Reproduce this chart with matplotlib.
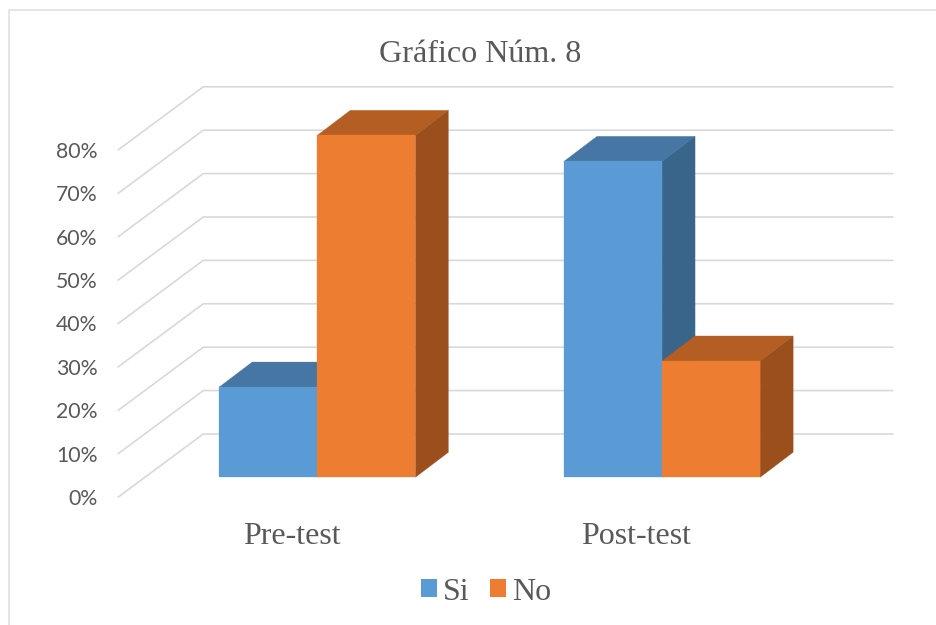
#!/usr/bin/env python3
import matplotlib
matplotlib.use("Agg")
import matplotlib.pyplot as plt
from matplotlib.lines import Line2D
from matplotlib.patches import Patch, Polygon

# data
categories = ["Pre-test", "Post-test"]
si_values = [20.8, 72.8]
no_values = [78.8, 26.8]
grid_values = [0, 10, 20, 30, 40, 50, 60, 70, 80]

W, H = 937, 625
GREY = "#595959"
GRID = "#D9D9D9"
SI = ("#5B9BD5", "#4676A3", "#3A658B")   # front, top, side
NO = ("#ED7D31", "#B55E23", "#9A4F1C")

# geometry of the fake 3D box (x in category units, y in percent units)
BAR_W = 0.2845
DEPTH_X = 0.0957
DEPTH_Y = 5.76
WALL_DX = 0.2465     # how far left the side wall reaches, front end
WALL_LEFT = -0.5773
WALL_BACK_LEFT = WALL_LEFT + WALL_DX
WALL_RIGHT = 1.669
BACK_Y = 9.98        # back wall 0% line, measured from the bar base
FRONT_Y = -4.54      # side wall 0% line at the front

fig = plt.figure(figsize=(W / 100, H / 100), dpi=100, facecolor="white")
ax = fig.add_axes([118.3 / W, 1 - 497 / H, (892.7 - 118.3) / W, (497 - 86) / H])
ax.set_xlim(WALL_LEFT, WALL_RIGHT)
ax.set_ylim(FRONT_Y, 90.16)
ax.patch.set_alpha(0)
for s in ax.spines.values():
    s.set_visible(False)

# chart frame, only top and left show in the picture
fig.add_artist(Line2D([9.5 / W, 9.5 / W, 1], [0, 1 - 10 / H, 1 - 10 / H], color="#E0E0E0", lw=1.2))

# walls
for v in grid_values:
    ax.plot([WALL_LEFT, WALL_BACK_LEFT, WALL_RIGHT],
            [v + FRONT_Y, v + BACK_Y, v + BACK_Y],
            color=GRID, lw=1.2, zorder=1, solid_joinstyle="miter", clip_on=False)


def draw_bar(x0, x1, v, cols, z):
    front, top, side = cols
    ax.add_patch(Polygon([(x0, 0), (x1, 0), (x1, v), (x0, v)], fc=front, ec=front, lw=0.2, zorder=z + 0.2))
    ax.add_patch(Polygon([(x0, v), (x1, v), (x1 + DEPTH_X, v + DEPTH_Y), (x0 + DEPTH_X, v + DEPTH_Y)],
                         fc=top, ec=top, lw=0.2, zorder=z))
    ax.add_patch(Polygon([(x1, 0), (x1 + DEPTH_X, DEPTH_Y), (x1 + DEPTH_X, v + DEPTH_Y), (x1, v)],
                         fc=side, ec=side, lw=0.2, zorder=z + 0.1))


for i in range(len(categories)):
    draw_bar(i - BAR_W, i, si_values[i], SI, 2)
    draw_bar(i, i + BAR_W, no_values[i], NO, 3)

# axis labels
ax.set_yticks([v + FRONT_Y for v in grid_values])
ax.set_yticklabels([f"{v}%" for v in grid_values], family="Lato", fontsize=15.3, color=GREY)
ax.set_xticks([i - 0.075 for i in range(len(categories))])
ax.set_xticklabels(categories, family="Liberation Serif", fontsize=23, color=GREY)
ax.tick_params(axis="y", length=0, pad=15)
ax.tick_params(axis="x", length=0, pad=18)

fig.text(480.5 / W, 1 - 54 / H, "Gráfico Núm. 8", family="Liberation Serif", fontsize=23.1,
         color=GREY, ha="center", va="center")

handles = [Patch(fc=SI[0], label="Si"), Patch(fc=NO[0], label="No")]
fig.legend(handles=handles, loc="center", bbox_to_anchor=(486 / W, 1 - 592 / H), ncol=2, frameon=False,
           prop={"family": "Liberation Serif", "size": 23}, labelcolor=GREY,
           handlelength=0.5, handleheight=0.5, handletextpad=0.2, columnspacing=0.62)

fig.savefig("out.png", dpi=100)
